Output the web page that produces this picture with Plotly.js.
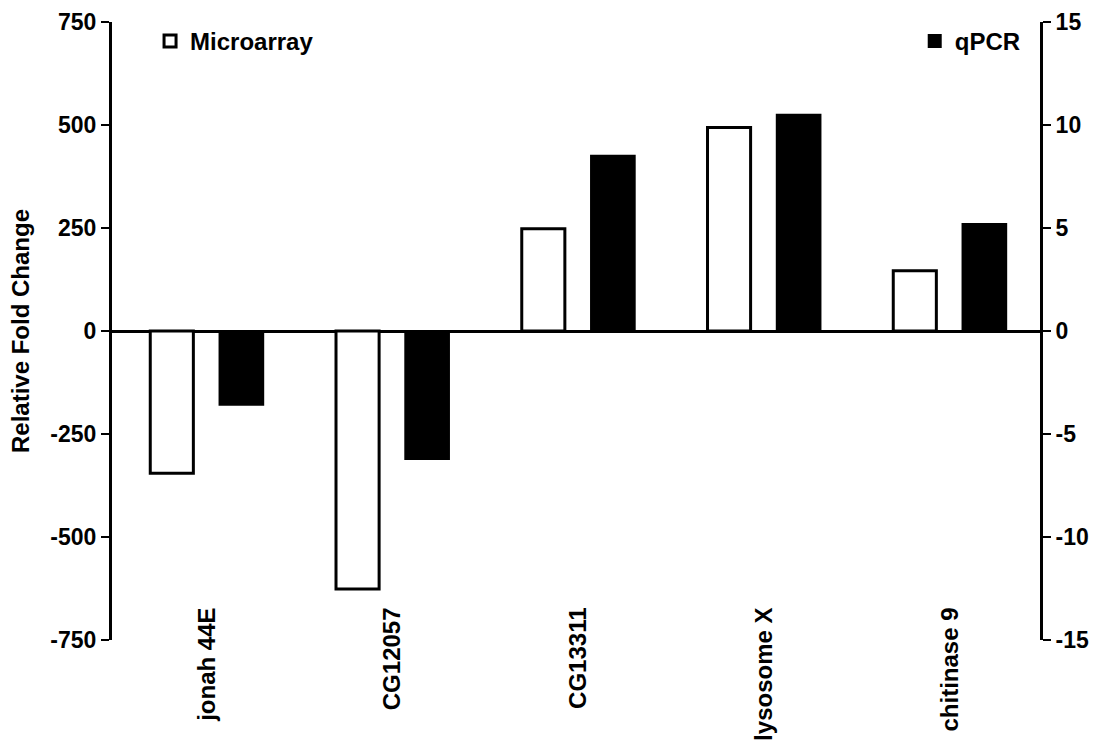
<!DOCTYPE html>
<html>
<head>
<meta charset="utf-8">
<script src="https://cdn.plot.ly/plotly-3.0.1.min.js"></script>
<style>html,body{margin:0;padding:0;background:#fff;}#chart{width:1095px;height:749px;}</style>
</head>
<body>
<div id="chart"></div>
<script>
const categories = ['jonah 44E', 'CG12057', 'CG13311', 'lysosome X', 'chitinase 9'];
const microarray = [-345, -626, 248, 494, 146];
const qpcr = [-3.58, -6.21, 8.51, 10.5, 5.2];
const leftTicks = [-750, -500, -250, 0, 250, 500, 750];
const rightTicks = [-15, -10, -5, 0, 5, 10, 15];

const FONT = 'Liberation Sans, Arial, sans-serif';
const xIdx = categories.map((c, i) => i);

const traces = [
  {
    type: 'bar', name: 'Microarray', x: xIdx, y: microarray,
    xaxis: 'x', yaxis: 'y',
    width: 0.232, offset: -0.305,
    marker: {color: '#ffffff', line: {color: '#000000', width: 3}},
    legend: 'legend'
  },
  {
    type: 'bar', name: 'qPCR', x: xIdx, y: qpcr,
    xaxis: 'x', yaxis: 'y2',
    width: 0.235, offset: 0.068,
    marker: {color: '#000000', line: {color: '#000000', width: 2}},
    legend: 'legend2'
  }
];

const tickFont = {family: FONT, size: 23, color: '#000', weight: 'bold'};

const layout = {
  width: 1095, height: 749,
  margin: {l: 112, r: 55, t: 22, b: 109, pad: 0},
  paper_bgcolor: '#fff', plot_bgcolor: 'rgba(0,0,0,0)',
  showlegend: true,
  barmode: 'overlay',
  xaxis: {
    type: 'linear', range: [-0.511, 4.485],
    tickvals: xIdx, ticktext: categories,
    tickangle: -90, ticks: '', showline: false, showgrid: false, zeroline: false,
    anchor: 'free', position: 0.062,
    tickfont: {family: FONT, size: 24, color: '#000', weight: 'bold'},
    automargin: false, fixedrange: true
  },
  yaxis: {
    range: [-750, 750], tickvals: leftTicks, ticktext: leftTicks.map(String),
    showline: true, linewidth: 3, linecolor: '#000',
    ticks: 'outside', ticklen: 8, tickwidth: 2.5, tickcolor: '#000',
    showgrid: false, zeroline: true, zerolinecolor: '#000', zerolinewidth: 3,
    tickfont: tickFont,
    title: {text: 'Relative Fold Change', font: {family: FONT, size: 24, color: '#000', weight: 'bold'}, standoff: 14},
    automargin: false, fixedrange: true
  },
  yaxis2: {
    range: [-15, 15], tickvals: rightTicks, ticktext: rightTicks.map(String),
    overlaying: 'y', side: 'right',
    showline: true, linewidth: 3, linecolor: '#000',
    ticks: 'outside', ticklen: 8, tickwidth: 2.5, tickcolor: '#000',
    showgrid: false, zeroline: false,
    tickfont: tickFont,
    automargin: false, fixedrange: true
  },
  legend: {
    x: 0.041, xanchor: 'left', y: 1.005, yanchor: 'top',
    bgcolor: 'rgba(0,0,0,0)', borderwidth: 0,
    font: {family: FONT, size: 24, color: '#000', weight: 'bold'}
  },
  legend2: {
    x: 0.865, xanchor: 'left', y: 1.005, yanchor: 'top',
    bgcolor: 'rgba(0,0,0,0)', borderwidth: 0,
    font: {family: FONT, size: 24, color: '#000', weight: 'bold'}
  }
};

Plotly.newPlot('chart', traces, layout, {staticPlot: true, displayModeBar: false});
</script>
</body>
</html>
